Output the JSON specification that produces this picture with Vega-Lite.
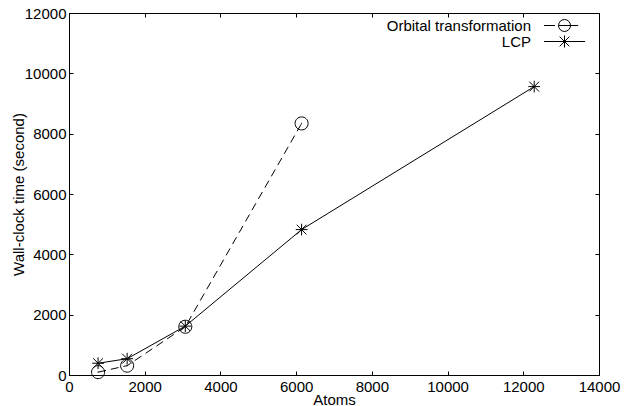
{
  "$schema": "https://vega.github.io/schema/vega-lite/v6.json",
  "width": 530,
  "height": 362,
  "autosize": {"type": "none"},
  "padding": {"left": 69, "top": 13, "right": 25, "bottom": 31},
  "background": "white",
  "config": {
    "view": {"stroke": "black", "strokeWidth": 1},
    "font": "Liberation Sans",
    "axis": {
      "grid": false,
      "domain": false,
      "tickColor": "black",
      "tickSize": -4,
      "tickWidth": 1,
      "labelFont": "Liberation Sans",
      "labelFontSize": 15,
      "labelColor": "black",
      "labelFlush": false,
      "labelOverlap": false,
      "titleFont": "Liberation Sans",
      "titleFontSize": 15,
      "titleFontWeight": "normal",
      "titleColor": "black"
    }
  },
  "data": {
    "values": [
      {"series": "Orbital transformation", "atoms": 768, "time": 95},
      {"series": "Orbital transformation", "atoms": 1536, "time": 310},
      {"series": "Orbital transformation", "atoms": 3072, "time": 1600},
      {"series": "Orbital transformation", "atoms": 6144, "time": 8340},
      {"series": "LCP", "atoms": 768, "time": 390},
      {"series": "LCP", "atoms": 1536, "time": 540},
      {"series": "LCP", "atoms": 3072, "time": 1620},
      {"series": "LCP", "atoms": 6144, "time": 4820},
      {"series": "LCP", "atoms": 12288, "time": 9560}
    ]
  },
  "layer": [
    {
      "transform": [{"filter": "datum.series === 'Orbital transformation'"}],
      "mark": {"type": "line", "color": "black", "strokeWidth": 1, "strokeDash": [8, 5]},
      "encoding": {
        "x": {
          "field": "atoms", "type": "quantitative",
          "scale": {"domain": [0, 14000], "nice": false},
          "axis": {"orient": "bottom", "values": [0, 2000, 4000, 6000, 8000, 10000, 12000, 14000], "format": "d", "labelPadding": 8, "title": "Atoms", "titlePadding": -2}
        },
        "y": {
          "field": "time", "type": "quantitative",
          "scale": {"domain": [0, 12000], "nice": false},
          "axis": {"orient": "left", "values": [0, 2000, 4000, 6000, 8000, 10000, 12000], "format": "d", "labelPadding": 7, "title": "Wall-clock time (second)", "titlePadding": -2}
        },
        "order": {"field": "atoms", "type": "quantitative"}
      }
    },
    {
      "transform": [{"filter": "datum.series === 'LCP'"}],
      "mark": {"type": "line", "color": "black", "strokeWidth": 1},
      "encoding": {
        "x": {"field": "atoms", "type": "quantitative", "scale": {"domain": [0, 14000], "nice": false}, "axis": null},
        "y": {"field": "time", "type": "quantitative", "scale": {"domain": [0, 12000], "nice": false}, "axis": null},
        "order": {"field": "atoms", "type": "quantitative"}
      }
    },
    {
      "mark": {"type": "point", "filled": false, "color": "black", "strokeWidth": 1, "size": 170, "opacity": 1},
      "encoding": {
        "x": {
          "field": "atoms", "type": "quantitative",
          "scale": {"domain": [0, 14000], "nice": false},
          "axis": {"orient": "top", "values": [0, 2000, 4000, 6000, 8000, 10000, 12000, 14000], "labels": false, "title": null}
        },
        "y": {
          "field": "time", "type": "quantitative",
          "scale": {"domain": [0, 12000], "nice": false},
          "axis": {"orient": "right", "values": [0, 2000, 4000, 6000, 8000, 10000, 12000], "labels": false, "title": null}
        },
        "shape": {
          "field": "series", "type": "nominal",
          "scale": {
            "domain": ["Orbital transformation", "LCP"],
            "range": [
              "M-1,0A1,1 0 1,1 1,0A1,1 0 1,1 -1,0M0,-0.08L0,0.08",
              "M-0.9,0L0.9,0M0,-0.9L0,0.9M-0.75,-0.75L0.75,0.75M-0.75,0.75L0.75,-0.75"
            ]
          },
          "legend": null
        }
      }
    },
    {
      "mark": {"type": "point", "filled": false, "color": "black", "strokeWidth": 1, "size": 170, "opacity": 0},
      "encoding": {
        "x": {"field": "atoms", "type": "quantitative", "scale": {"domain": [0, 14000], "nice": false}, "axis": null},
        "y": {"field": "time", "type": "quantitative", "scale": {"domain": [0, 12000], "nice": false}, "axis": null},
        "shape": {
          "field": "series", "type": "nominal",
          "scale": {
            "domain": ["Orbital transformation", "LCP"],
            "range": [
              "M-3.15,0L-1.45,0M-0.92,0L2.1,0M-0.92,0A0.92,0.92 0 1,1 0.92,0A0.92,0.92 0 1,1 -0.92,0",
              "M-3.15,0L3.15,0M0,-0.92L0,0.92M-0.75,-0.75L0.75,0.75M-0.75,0.75L0.75,-0.75"
            ]
          },
          "legend": {
            "orient": "none",
            "legendX": 488,
            "legendY": 5,
            "title": null,
            "labelFont": "Liberation Sans",
            "labelFontSize": 15,
            "labelColor": "black",
            "labelAlign": "right",
            "labelOffset": -41,
            "rowPadding": -2,
            "symbolStrokeColor": "black",
            "symbolStrokeWidth": 1,
            "symbolOpacity": 1,
            "symbolSize": 170
          }
        }
      }
    }
  ],
  "resolve": {
    "scale": {"shape": "independent"},
    "axis": {"x": "independent", "y": "independent"}
  }
}
